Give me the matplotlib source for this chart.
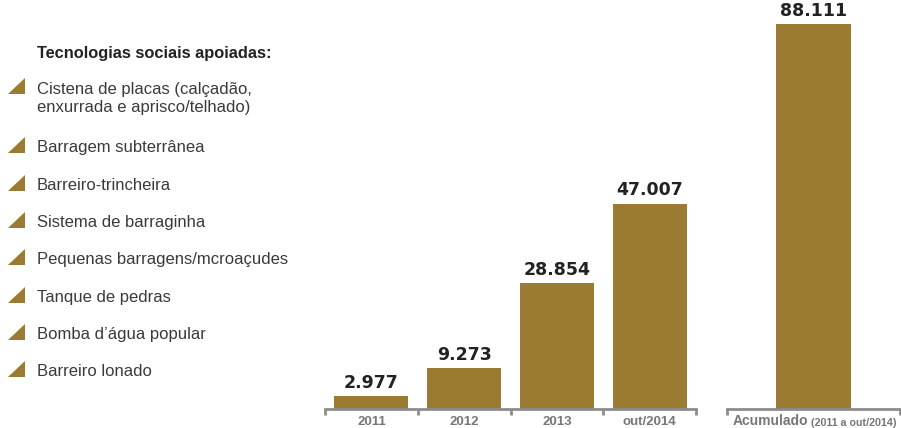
import matplotlib.pyplot as plt
from matplotlib.patches import Polygon

# yearly totals and the running total
periods = ['2011', '2012', '2013', 'out/2014']
totals = [2977, 9273, 28854, 47007]
accumulated = 88111
acc_label = 'Acumulado'
acc_note = '(2011 a out/2014)'

legend_title = 'Tecnologias sociais apoiadas:'
technologies = [
    'Cistena de placas (calçadão,\nenxurrada e aprisco/telhado)',
    'Barragem subterrânea',
    'Barreiro-trincheira',
    'Sistema de barraginha',
    'Pequenas barragens/mcroaçudes',
    'Tanque de pedras',
    'Bomba d’água popular',
    'Barreiro lonado',
]

GOLD = '#9B7A32'
AXIS = '#8c8c8c'
TICK_TXT = '#777777'
NUM = '#222222'
W, H = 901, 428

plt.rcParams['font.family'] = ['Liberation Sans', 'DejaVu Sans']

fig = plt.figure(figsize=(W / 100, H / 100), dpi=100)
fig.patch.set_facecolor('white')

# ── legend block drawn in pixel coordinates ─────────────────────────────────
lax = fig.add_axes([0, 0, 1, 1])
lax.set_xlim(0, W)
lax.set_ylim(H, 0)
lax.axis('off')

lax.text(37, 58, legend_title, fontsize=11.8, fontweight='bold',
         color='#222222', va='baseline', ha='left')

baselines = [112, 152, 190, 227, 264, 302, 339, 376]
tri_bottoms = [94, 153, 191, 228, 265, 303, 340, 377]
for name, yb, tb in zip(technologies, baselines, tri_bottoms):
    lax.add_patch(Polygon([(8, tb), (25, tb), (25, tb - 16)], closed=True,
                          facecolor=GOLD, edgecolor='none'))
    lax.text(37, yb, name, fontsize=12, color='#3a3a3a', va='baseline',
             ha='left', linespacing=1.25)

# ── bar panels ──────────────────────────────────────────────────────────────
ymax = accumulated * 409 / 385
bottom = (H - 409) / H
height = 409 / H


def fmt(v):
    return f'{v:,}'.replace(',', '.')


def style(ax, n):
    for sp in ['top', 'right', 'left']:
        ax.spines[sp].set_visible(False)
    ax.spines['bottom'].set_color(AXIS)
    ax.spines['bottom'].set_linewidth(2)
    ax.set_xlim(-0.5, n - 0.5)
    ax.set_ylim(0, ymax)
    ax.set_yticks([])
    ax.set_xticks([i - 0.5 for i in range(n + 1)], minor=True)
    ax.tick_params(axis='x', which='minor', length=4, width=2, color=AXIS,
                   direction='out')
    ax.tick_params(axis='x', which='major', length=0, pad=5)
    ax.patch.set_alpha(0)


ax1 = fig.add_axes([325 / W, bottom, 371 / W, height])
x1 = range(len(periods))
bars = ax1.bar(x1, totals, width=0.8, color=GOLD)
style(ax1, len(periods))
ax1.set_xticks(list(x1))
ax1.set_xticklabels(periods, fontsize=9.5, fontweight='bold', color=TICK_TXT)
for b, v in zip(bars, totals):
    ax1.annotate(fmt(v), (b.get_x() + b.get_width() / 2, v),
                 xytext=(0, 3), textcoords='offset points', ha='center',
                 va='bottom', fontsize=12.5, fontweight='bold', color=NUM,
                 family='DejaVu Sans')

ax2 = fig.add_axes([727 / W, bottom, 173 / W, height])
bar2 = ax2.bar([0], [accumulated], width=0.43, color=GOLD)
style(ax2, 1)
ax2.set_xticks([0])
ax2.set_xticklabels([''])
ax2.annotate(fmt(accumulated), (0, accumulated), xytext=(0, 3),
             textcoords='offset points', ha='center', va='bottom',
             fontsize=12.5, fontweight='bold', color=NUM, family='DejaVu Sans')

t1 = fig.text(733 / W, (H - 425) / H, acc_label, fontsize=10,
              fontweight='bold', color=TICK_TXT, ha='left', va='baseline')
ax2.annotate(' ' + acc_note, xy=(1, 0), xycoords=t1, ha='left', va='bottom',
             fontsize=7.7, fontweight='bold', color=TICK_TXT)

fig.savefig('out.png', dpi=100, facecolor='white')
